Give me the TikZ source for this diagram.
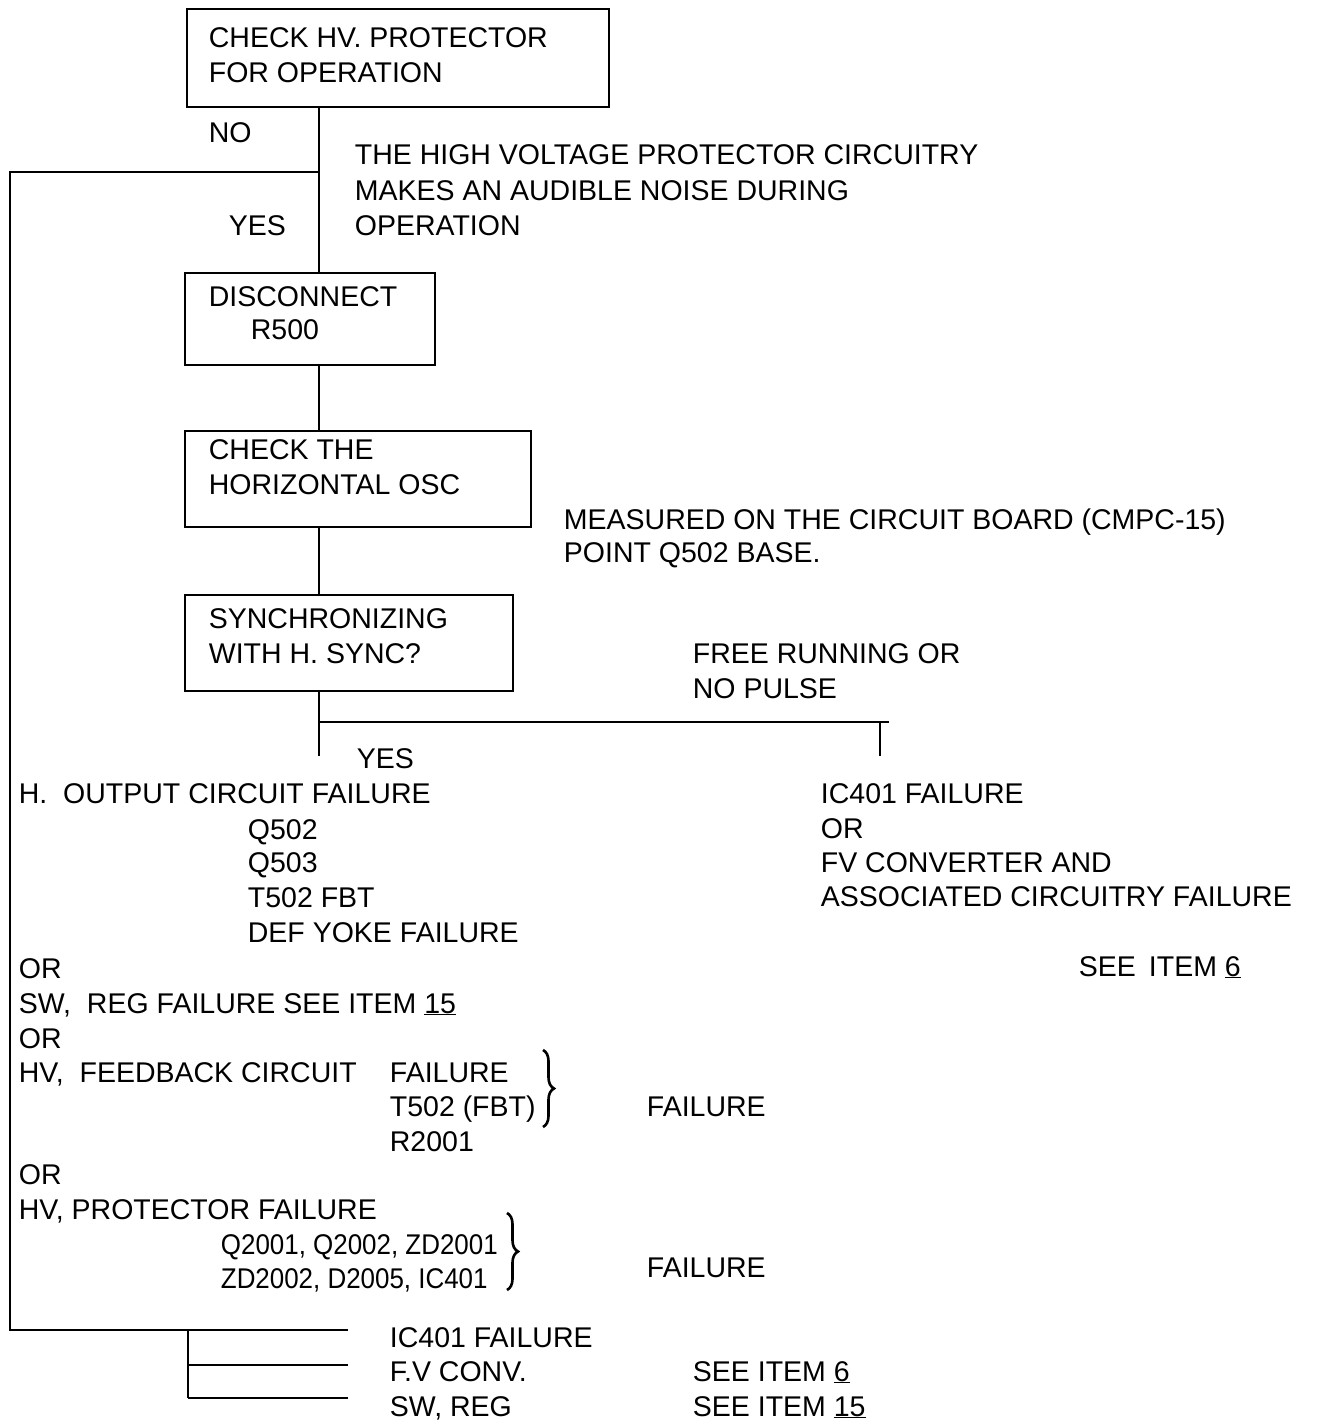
\documentclass[tikz,border=0pt]{standalone}
\usepackage{fontspec}
\usepackage{graphicx}
\setmainfont{Liberation Sans}
\usetikzlibrary{decorations.pathreplacing,calc}
\newcommand\fsz{\fontsize{28.5}{35}\selectfont}
\begin{document}
\begin{tikzpicture}[x=1pt,y=-1pt,line width=1.8pt,
  box/.style={draw,line width=1.8pt,anchor=north west,inner sep=0pt},
  txt/.style={anchor=base west,inner sep=0pt,font=\fsz},
  brc/.style={decorate,decoration={brace,amplitude=11pt},line width=2.6pt}]
\useasboundingbox (0,0) rectangle (1330,1420);
\fill[white] (0,0) rectangle (1330,1420);
% boxes
\node[box,minimum width=422pt,minimum height=98pt] (b1) at (186,8) {};
\node[box,minimum width=250pt,minimum height=92pt] (b2) at (184,272) {};
\node[box,minimum width=346pt,minimum height=96pt] (b3) at (184,430) {};
\node[box,minimum width=328pt,minimum height=96pt] (b4) at (184,594) {};
% box texts
\node[txt] (t1a) at (208,48) {CHECK HV. PROTECTOR};
\node[txt] (t1b) at (208,83) {FOR OPERATION};
\node[txt] (t2a) at (208,306) {DISCONNECT};
\node[txt] (t2b) at (250,339) {R500};
\node[txt] (t3a) at (208,459) {CHECK THE};
\node[txt] (t3b) at (208,494) {HORIZONTAL OSC};
\node[txt] (t4a) at (208,628) {SYNCHRONIZING};
\node[txt] (t4b) at (208,663) {WITH H. SYNC?};
% labels
\node[txt] (no) at (208,143) {NO};
\node[txt] (yes1) at (228,236) {YES};
\node[txt] (n1a) at (354,165) {THE HIGH VOLTAGE PROTECTOR CIRCUITRY};
\node[txt] (n1b) at (354,201) {MAKES AN AUDIBLE NOISE DURING};
\node[txt] (n1c) at (354,236) {OPERATION};
\node[txt] (n2a) at (563,529) {MEASURED ON THE CIRCUIT BOARD (CMPC-15)};
\node[txt] (n2b) at (563,562) {POINT Q502 BASE.};
\node[txt] (fr1) at (692,663) {FREE RUNNING OR};
\node[txt] (fr2) at (692,698) {NO PULSE};
\node[txt] (yes2) at (356,768) {YES};
% left results
\node[txt] (h1) at (18,803) {H.\ \ OUTPUT CIRCUIT FAILURE};
\node[txt] (h2) at (247,839) {Q502};
\node[txt] (h3) at (247,872) {Q503};
\node[txt] (h4) at (247,907) {T502 FBT};
\node[txt] (h5) at (247,942) {DEF YOKE FAILURE};
\node[txt] (or1) at (18,978) {OR};
\node[txt] (sw) at (18,1013) {SW,\ \ REG FAILURE SEE ITEM \underline{15}};
\node[txt] (or2) at (18,1048) {OR};
\node[txt] (fb1) at (18,1082) {HV,\ \ FEEDBACK CIRCUIT};
\node[txt] (fb2) at (389,1082) {FAILURE};
\node[txt] (fb3) at (389,1116) {T502 (FBT)};
\node[txt] (fb4) at (389,1151) {R2001};
\node[txt] (fb5) at (646,1116) {FAILURE};
\node[txt] (or3) at (18,1184) {OR};
\node[txt] (pr1) at (18,1219) {HV, PROTECTOR FAILURE};
\node[txt] (pr2) at (220,1254) {\scalebox{0.91}[1]{Q2001, Q2002, ZD2001}};
\node[txt] (pr3) at (220,1288) {\scalebox{0.91}[1]{ZD2002, D2005, IC401}};
\node[txt] (pr4) at (646,1277) {FAILURE};
% right results
\node[txt] (r1) at (820,803) {IC401 FAILURE};
\node[txt] (r2) at (820,838) {OR};
\node[txt] (r3) at (820,872) {FV CONVERTER AND};
\node[txt] (r4) at (820,906) {ASSOCIATED CIRCUITRY FAILURE};
\node[txt] (r5) at (1078,976) {SEE\hspace{13pt}ITEM \underline{6}};
% bottom
\node[txt] (c1) at (389,1347) {IC401 FAILURE};
\node[txt] (c2) at (389,1381) {F.V CONV.};
\node[txt] (c3) at (389,1416) {SW, REG};
\node[txt] (c4) at (692,1381) {SEE ITEM \underline{6}};
\node[txt] (c5) at (692,1416) {SEE ITEM \underline{15}};
% connectors
\coordinate (sp) at (319,0);
\coordinate (nb) at (319,172);
\coordinate (lt) at (10,172);
\coordinate (lb) at (10,1330);
\coordinate (br) at (348,1330);
\draw (b1.south -| sp) -- (b2.north -| sp);
\draw (nb) -- (lt) -- (lb) -- (br);
\draw (b2.south -| sp) -- (b3.north -| sp);
\draw (b3.south -| sp) -- (b4.north -| sp);
\coordinate (y1) at (319,722);
\coordinate (ye) at (319,756);
\draw (b4.south -| sp) -- (ye);
\coordinate (fr) at (889,722);
\coordinate (fv) at (880,722);
\coordinate (fe) at (880,756);
\draw (y1) -- (fr);
\draw (fv) -- (fe);
\coordinate (bt) at (188,1330);
\coordinate (bb) at (188,1398);
\coordinate (m2) at (188,1365);
\coordinate (m2e) at (348,1365);
\coordinate (b3e) at (348,1398);
\draw (bt) -- (bb);
\draw (m2) -- (m2e);
\draw (bb) -- (b3e);
% braces
\coordinate (bra) at (543,1050);
\coordinate (brb) at (543,1127);
\draw[brc] (bra) -- (brb);
\coordinate (brc1) at (507,1213);
\coordinate (brc2) at (507,1290);
\draw[brc] (brc1) -- (brc2);
\end{tikzpicture}
\end{document}
